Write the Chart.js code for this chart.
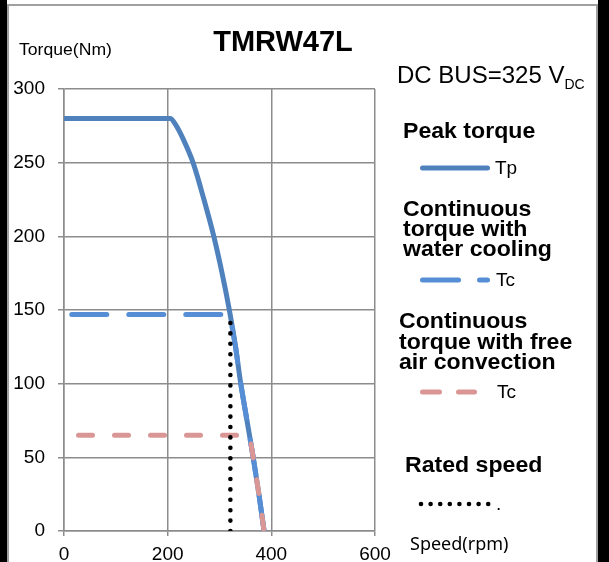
<!DOCTYPE html>
<html>
<head>
<meta charset="utf-8">
<script src="https://cdn.jsdelivr.net/npm/chart.js@4.4.0/dist/chart.umd.min.js"></script>
<style>
  html, body { margin: 0; padding: 0; background: #fff; }
  #wrap { position: relative; width: 609px; height: 562px; overflow: hidden; font-family: 'Liberation Sans', Arial, sans-serif; }
  .edge-l { position: absolute; left: 0; top: 0; width: 7px; height: 562px; background: #000; }
  .edge-r { position: absolute; left: 598px; top: 0; width: 11px; height: 562px; background: #000; }
  .frame { position: absolute; left: 7px; top: 4px; width: 587px; height: 600px; border: 2px solid #a0a0a0; border-bottom: none; }
  canvas { position: absolute; left: 0; top: 0; }
  .t { position: absolute; white-space: nowrap; line-height: 1; color: #000; }
  .b { font-weight: bold; transform: scaleX(1.05); transform-origin: 0 0; }
</style>
</head>
<body>
<div id="wrap">
  <div class="edge-l"></div>
  <div class="edge-r"></div>
  <div class="frame"></div>
  <canvas id="torqueChart" width="609" height="562"></canvas>

  <div class="t" style="left:283px; top:27px; font-size:29px; font-weight:bold; transform:translateX(-50%);">TMRW47L</div>
  <div class="t" style="left:19px; top:42px; font-size:16px; transform:scaleX(1.1); transform-origin:0 0;">Torque(Nm)</div>
  <div class="t" style="left:397px; top:63px; font-size:24px;">DC BUS=325 V<span style="font-size:14px; position:relative; top:6px;">DC</span></div>

  <div class="t b" style="left:403px; top:120px; font-size:22px;">Peak torque</div>
  <div class="t" style="left:495px; top:158px; font-size:19px;">Tp</div>

  <div class="t b" style="left:403px; top:199px; font-size:22px; line-height:20px;">Continuous<br>torque with<br>water cooling</div>
  <div class="t" style="left:496px; top:270px; font-size:19px;">Tc</div>

  <div class="t b" style="left:399px; top:311px; font-size:22px; line-height:20.7px;">Continuous<br>torque with free<br>air convection</div>
  <div class="t" style="left:497px; top:382px; font-size:19px;">Tc</div>

  <div class="t b" style="left:405px; top:454px; font-size:22px;">Rated speed</div>
  <div class="t" style="left:496px; top:494px; font-size:19px;">.</div>

  <div class="t" style="left:410px; top:534px; font-size:18px; font-family:'Noto Sans', sans-serif;">Speed(rpm)</div>
</div>

<script>
// values
const peakRpm    = [0, 205, 215, 230, 249, 270, 289, 305, 319, 331, 341, 353, 365, 376, 386];
const peakTorque = [280, 280, 276, 266, 250, 225, 200, 175, 150, 125, 100, 75, 50, 25, 0];

const waterRpm    = [15, 320, 331, 341, 353, 365, 376, 386];
const waterTorque = [147, 147, 125, 100, 75, 50, 25, 0];

const airRpm    = [28, 358, 365, 376, 386];
const airTorque = [65, 65, 50, 25, 0];

const ratedRpm    = [321, 321];
const ratedTorque = [0, 146];

const xTicks = [0, 200, 400, 600];
const yTicks = [0, 50, 100, 150, 200, 250, 300];

const BLUE = '#4F81BD';
const BLUE_DASH = '#558ED5';
const PINK = '#D99694';
const GRID = '#8c8c8c';

const toPoints = (xs, ys) => xs.map((x, i) => ({ x: x, y: ys[i] }));

// little line samples next to the legend texts
const legendSamples = {
    id: 'legendSamples',
    afterDraw(chart) {
        const ctx = chart.ctx;
        ctx.save();
        ctx.lineCap = 'round';
        ctx.lineWidth = 5;

        const seg = (color, y, parts) => {
            ctx.strokeStyle = color;
            parts.forEach(p => {
                ctx.beginPath();
                ctx.moveTo(p[0], y);
                ctx.lineTo(p[1], y);
                ctx.stroke();
            });
        };
        seg(BLUE, 168, [[422.5, 487.5]]);
        seg(BLUE_DASH, 280, [[422.5, 458.5], [479.5, 487.5]]);
        seg(PINK, 392, [[422.5, 439.5], [458.5, 474.5]]);

        ctx.fillStyle = '#000';
        for (let i = 0; i < 8; i++) {
            ctx.beginPath();
            ctx.arc(421 + i * 9.6, 504, 2.3, 0, Math.PI * 2);
            ctx.fill();
        }
        ctx.restore();
    }
};

const tickFont = { family: "'Liberation Sans', Arial, sans-serif", size: 19 };

new Chart(document.getElementById('torqueChart').getContext('2d'), {
    type: 'line',
    data: {
        datasets: [
            {
                label: 'Rated speed',
                data: toPoints(ratedRpm, ratedTorque),
                borderColor: '#000',
                borderWidth: 4.6,
                borderDash: [0, 10.4],
                borderCapStyle: 'round',
                pointRadius: 0,
                order: 0
            },
            {
                label: 'Tc free air',
                data: toPoints(airRpm, airTorque),
                borderColor: PINK,
                borderWidth: 5,
                borderDash: [14, 22],
                borderCapStyle: 'round',
                pointRadius: 0,
                order: 1
            },
            {
                label: 'Tc water',
                data: toPoints(waterRpm, waterTorque),
                borderColor: BLUE_DASH,
                borderWidth: 5,
                borderDash: [35, 22],
                borderCapStyle: 'round',
                pointRadius: 0,
                order: 2
            },
            {
                label: 'Tp',
                data: toPoints(peakRpm, peakTorque),
                borderColor: BLUE,
                borderWidth: 5,
                cubicInterpolationMode: 'monotone',
                borderCapStyle: 'round',
                pointRadius: 0,
                order: 3
            }
        ]
    },
    options: {
        responsive: false,
        animation: false,
        layout: { padding: { left: 0, right: 234, top: 89, bottom: 0 } },
        plugins: {
            legend: { display: false },
            title: { display: false },
            tooltip: { enabled: false }
        },
        scales: {
            x: {
                type: 'linear',
                min: 0,
                max: 600,
                afterBuildTicks: scale => { scale.ticks = xTicks.map(v => ({ value: v })); },
                afterFit: scale => { scale.height = 31; },
                grid: { color: GRID, lineWidth: 1.5, tickLength: 5, tickColor: GRID },
                border: { color: GRID, width: 1.5 },
                ticks: { color: '#000', font: tickFont, padding: 7, maxRotation: 0 }
            },
            y: {
                type: 'linear',
                min: 0,
                max: 300,
                afterBuildTicks: scale => { scale.ticks = yTicks.map(v => ({ value: v })); },
                afterFit: scale => { scale.width = 64; },
                grid: { color: GRID, lineWidth: 1.5, tickLength: 6, tickColor: GRID },
                border: { color: GRID, width: 1.5 },
                ticks: { color: '#000', font: tickFont, padding: 13 }
            }
        }
    },
    plugins: [legendSamples]
});
</script>
</body>
</html>
